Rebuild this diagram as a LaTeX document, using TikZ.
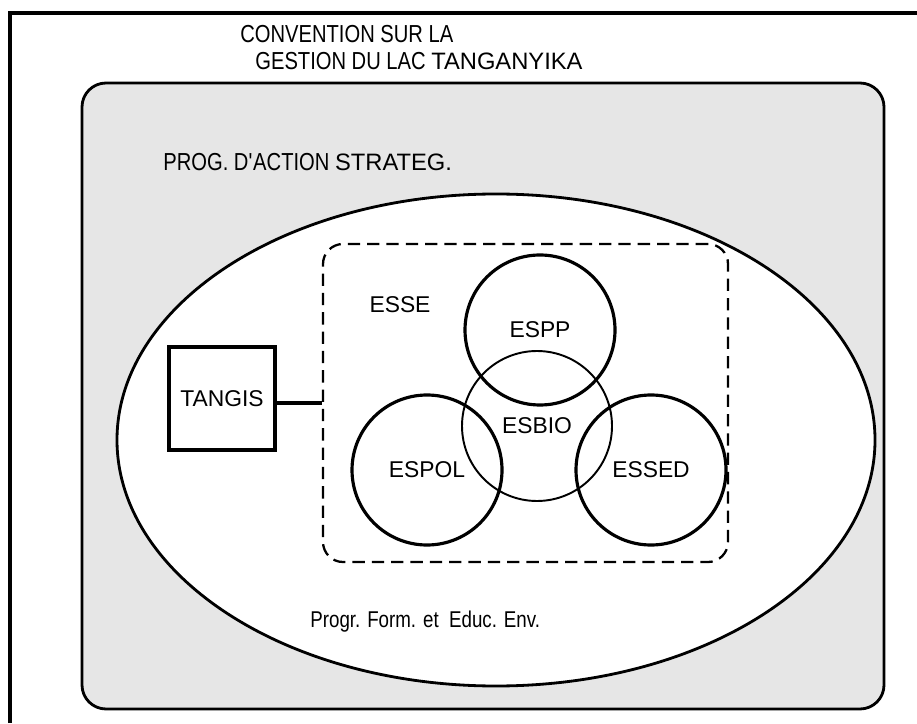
\documentclass[tikz,border=0pt]{standalone}
\usepackage{fontspec}
\setmainfont{Liberation Sans}
\newfontfamily\narrowsans[FakeStretch=0.82]{Liberation Sans}
\definecolor{panelgray}{RGB}{230, 230, 230}
\usetikzlibrary{shapes, positioning, calc}

\begin{document}
\begin{tikzpicture}[
    lbl/.style={font=\fontsize{13}{15}\selectfont, inner sep=0pt},
    ttl/.style={font=\fontsize{14}{16}\selectfont\narrowsans, inner sep=0pt, anchor=west},
    zone/.style={circle, draw, line width=1.8pt, minimum size=3cm, inner sep=0pt, font=\fontsize{13}{15}\selectfont}
  ]
  \useasboundingbox (0,0) rectangle (18.34,14.46);

  % Outer frame (left and top edges)
  \draw[line width=1.8pt] (0.2,0) -- (0.2,14.2) -- (18.4,14.2);

  % Title
  \node[ttl] (conv) at (4.8,13.78) {CONVENTION SUR LA};
  \node[ttl] (gestion) at (5.1,13.24) {GESTION DU LAC {\fontsize{13.5}{15}\rmfamily TANGANYIKA}};

  % Strategic action programme
  \node[draw, fill=panelgray, rounded corners=0.48cm, line width=1.6pt, minimum width=16.04cm, minimum height=12.52cm] (psa) at (9.66,6.54) {};
  \node[ttl] (prog) at (3.26,11.22) {PROG. D\textquotesingle ACTION {\fontsize{13.5}{15}\rmfamily STRATEG.}};

  % Training and education programme
  \node[draw, ellipse, fill=white, line width=1.6pt, minimum width=15.16cm, minimum height=9.84cm] (lac) at (9.92,5.66) {};
  \node[ttl, font=\fontsize{13}{15}\selectfont\narrowsans] (form) at (6.2,2.02) {Progr. Form. et\ \ Educ. Env.};

  % Special studies
  \node[draw, dash pattern=on 7pt off 4pt, rounded corners=0.4cm, line width=1.3pt, minimum width=8.1cm, minimum height=6.36cm] (esse) at (10.51,6.40) {};
  \node[lbl] (essetxt) at (8.0,8.36) {ESSE};

  \node[zone] (espp) at (10.80,7.86) {ESPP};
  \node[zone, line width=1.1pt] (esbio) at (10.74,5.94) {ESBIO};
  \node[zone] (espol) at (8.54,5.06) {ESPOL};
  \node[zone] (essed) at (13.02,5.06) {ESSED};

  % Information system
  \node[draw, line width=1.8pt, minimum width=2.12cm, minimum height=2.06cm, lbl] (tangis) at (4.44,6.49) {TANGIS};
  \draw[line width=1.8pt] (esse.west) -- (esse.west -| tangis.east);
\end{tikzpicture}
\end{document}
